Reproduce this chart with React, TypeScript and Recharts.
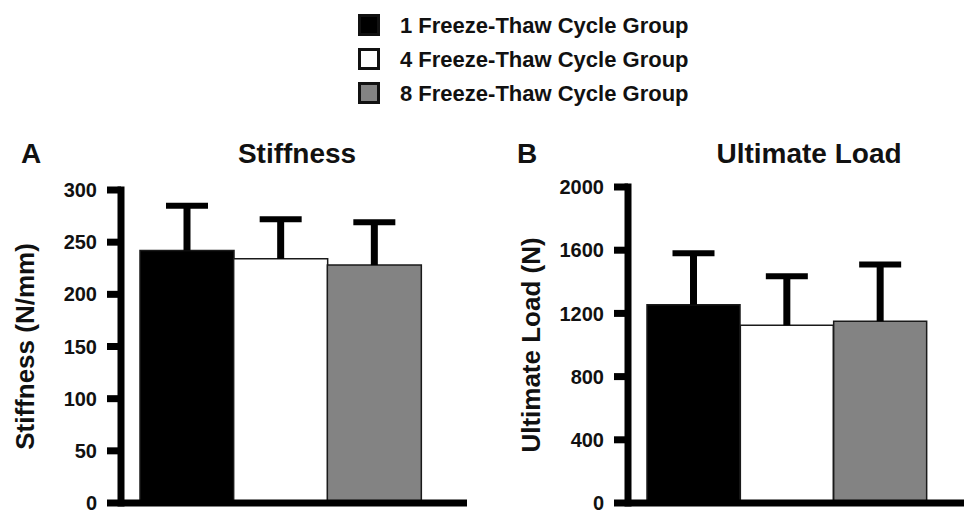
import { Bar, BarChart, Cell, Label, XAxis, YAxis } from "recharts";

// Two-panel freeze-thaw figure: stiffness (A) and ultimate load (B), mean + upward SD bar.

const groups = [
  "1 Freeze-Thaw Cycle Group",
  "4 Freeze-Thaw Cycle Group",
  "8 Freeze-Thaw Cycle Group",
];
const groupFills = ["#000000", "#ffffff", "#838383"];

const stiffnessMean = [242, 234, 228];
const stiffnessSd = [43, 38, 41];
const stiffnessTicks = [0, 50, 100, 150, 200, 250, 300];

const loadMean = [1255, 1125, 1150];
const loadSd = [325, 310, 360];
const loadTicks = [0, 400, 800, 1200, 1600, 2000];

const FONT = '"Liberation Sans", Arial, Helvetica, sans-serif';
const INK = "#111111";

// the sd segment is stacked on the mean, so its rect spans mean -> mean+sd
function ErrorCap(props: any) {
  const { x, y, width, height } = props;
  const cx = x + width / 2;
  return (
    <g>
      <line x1={cx} x2={cx} y1={y + height} y2={y} stroke="#000" strokeWidth={7} />
      <line x1={cx - 21} x2={cx + 21} y1={y} y2={y} stroke="#000" strokeWidth={6} />
    </g>
  );
}

function Panel({
  left,
  width,
  plotTop,
  yAxisWidth,
  marginRight,
  padRight,
  mean,
  sd,
  ticks,
  label,
  labelOffset,
}: {
  left: number;
  width: number;
  plotTop: number;
  yAxisWidth: number;
  marginRight: number;
  padRight: number;
  mean: number[];
  sd: number[];
  ticks: number[];
  label: string;
  labelOffset: number;
}) {
  const rows = groups.map((g, i) => ({ group: g, mean: mean[i], sd: sd[i] }));
  return (
    <div style={{ position: "absolute", left, top: 0 }}>
      <BarChart
        width={width}
        height={510}
        data={rows}
        margin={{ top: plotTop, right: marginRight, bottom: 0, left: 0 }}
        barCategoryGap={0}
      >
        <XAxis
          dataKey="group"
          height={7}
          tick={false}
          tickLine={false}
          axisLine={{ stroke: "#000", strokeWidth: 7 }}
          padding={{ left: 19, right: padRight }}
        />
        <YAxis
          type="number"
          domain={[0, ticks[ticks.length - 1]]}
          ticks={ticks}
          interval={0}
          width={yAxisWidth}
          tickSize={14}
          tickMargin={10}
          tickLine={{ stroke: "#000", strokeWidth: 7 }}
          axisLine={{ stroke: "#000", strokeWidth: 7, strokeLinecap: "square" }}
          tick={{ fill: INK, fontSize: 20, fontWeight: 700, fontFamily: FONT }}
        >
          <Label
            value={label}
            angle={-90}
            position="insideLeft"
            offset={labelOffset}
            textAnchor="middle"
            style={{ fill: INK, fontSize: 26, fontWeight: 700, fontFamily: FONT }}
          />
        </YAxis>
        <Bar dataKey="mean" stackId="s" isAnimationActive={false}>
          {rows.map((r, i) => (
            <Cell key={r.group} fill={groupFills[i]} stroke="#1a1a1a" strokeWidth={1.5} />
          ))}
        </Bar>
        <Bar dataKey="sd" stackId="s" isAnimationActive={false} shape={ErrorCap} />
      </BarChart>
    </div>
  );
}

export default function App() {
  return (
    <div
      style={{
        position: "absolute",
        left: 0,
        top: 0,
        width: 964,
        height: 510,
        background: "#fff",
        overflow: "hidden",
        fontFamily: FONT,
      }}
    >
      <Panel
        left={0}
        width={480}
        plotTop={190}
        yAxisWidth={121}
        marginRight={13}
        padRight={46}
        mean={stiffnessMean}
        sd={stiffnessSd}
        ticks={stiffnessTicks}
        label="Stiffness (N/mm)"
        labelOffset={25}
      />
      <Panel
        left={480}
        width={484}
        plotTop={187}
        yAxisWidth={148}
        marginRight={0}
        padRight={37}
        mean={loadMean}
        sd={loadSd}
        ticks={loadTicks}
        label="Ultimate Load (N)"
        labelOffset={51}
      />

      {/* titles + legend */}
      <svg
        width={964}
        height={510}
        style={{ position: "absolute", left: 0, top: 0, pointerEvents: "none" }}
        fontFamily={FONT}
        fontWeight={700}
        fill={INK}
      >
        <text x={21} y={163} fontSize={28}>A</text>
        <text x={297} y={163} fontSize={28} textAnchor="middle">Stiffness</text>
        <text x={517} y={163} fontSize={28}>B</text>
        <text x={809} y={163} fontSize={28} textAnchor="middle">Ultimate Load</text>

        {groups.map((g, i) => {
          const cy = 25 + i * 34;
          return (
            <g key={g}>
              <rect
                x={359.5}
                y={cy - 9.5}
                width={19}
                height={19}
                fill={groupFills[i]}
                stroke="#111"
                strokeWidth={3}
              />
              <text x={400} y={cy + 8} fontSize={22}>
                {g}
              </text>
            </g>
          );
        })}
      </svg>
    </div>
  );
}
